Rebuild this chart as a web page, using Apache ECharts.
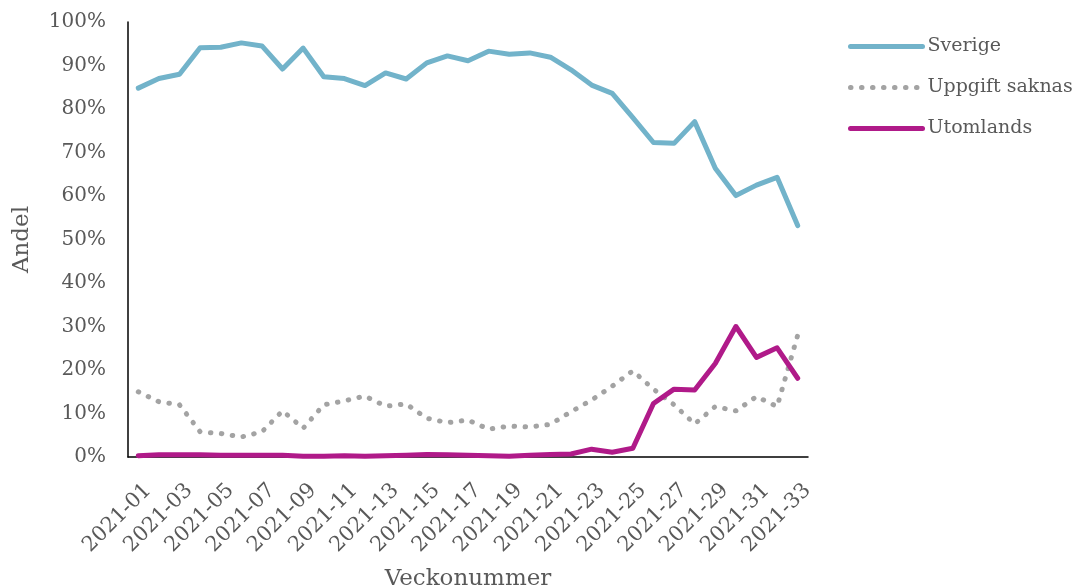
<!DOCTYPE html>
<html>
<head>
<meta charset="utf-8">
<script src="https://cdn.jsdelivr.net/npm/echarts@6/dist/echarts.min.js"></script>
<style>
  html, body { margin: 0; padding: 0; background: #fff; }
  #chart { width: 1078px; height: 588px; }
</style>
</head>
<body>
<div id="chart"></div>
<script>
// veckor 2021-01 .. 2021-33
const weeks = []
for (let w = 1; w <= 33; w++) weeks.push('2021-' + String(w).padStart(2, '0'))

// andel i procent
const sverige = [84.8, 87.0, 88.0, 94.1, 94.2, 95.2, 94.5, 89.2, 94.0, 87.4, 87.0, 85.4, 88.3, 86.9, 90.6, 92.2,
  91.1, 93.3, 92.6, 92.9, 91.9, 89.0, 85.5, 83.6, 78.0, 72.3, 72.1, 77.1, 66.4, 60.1, 62.5, 64.3, 53.2]
const uppgiftSaknas = [15.0, 12.7, 12.0, 5.8, 5.4, 4.6, 5.8, 10.6, 6.6, 12.0, 12.9, 14.0, 11.7, 12.2, 8.9, 7.9,
  8.5, 6.4, 7.1, 6.9, 7.5, 10.4, 13.1, 16.3, 19.8, 15.6, 12.0, 7.6, 11.6, 10.6, 13.9, 11.6, 28.0]
const utomlands = [0.3, 0.5, 0.5, 0.5, 0.4, 0.4, 0.4, 0.4, 0.2, 0.2, 0.3, 0.2, 0.3, 0.4, 0.6, 0.5,
  0.4, 0.3, 0.2, 0.4, 0.6, 0.7, 1.8, 1.1, 2.0, 12.3, 15.6, 15.4, 21.5, 30.0, 22.9, 25.1, 18.1]

const font = 'DejaVu Serif'
const grey = '#595959'
const dots = [0.5, 10.5]

const myChart = echarts.init(document.getElementById('chart'))
const option = {
  animation: false,
  textStyle: { fontFamily: font },
  grid: { left: 128, right: 270, top: 22, bottom: 131, outerBoundsMode: 'none' },
  legend: {
    orient: 'vertical',
    left: 843,
    top: 32,
    itemWidth: 72,
    itemHeight: 14,
    itemGap: 22,
    itemStyle: { opacity: 0 },
    lineStyle: { width: 5, cap: 'round' },
    textStyle: { fontFamily: font, fontSize: 19, color: grey },
    data: ['Sverige', 'Uppgift saknas', 'Utomlands']
  },
  xAxis: {
    type: 'category',
    data: weeks,
    boundaryGap: true,
    name: 'Veckonummer',
    nameLocation: 'middle',
    nameGap: 111,
    nameTextStyle: { fontFamily: font, fontSize: 23, color: grey },
    axisLine: { lineStyle: { color: '#000', width: 1.5 } },
    axisTick: { show: false },
    axisLabel: { interval: 1, rotate: 45, fontFamily: font, fontSize: 21, color: grey, margin: 40, padding: [0, -14, 0, 0] }
  },
  yAxis: {
    type: 'value',
    min: 0,
    max: 100,
    interval: 10,
    name: 'Andel',
    nameLocation: 'middle',
    nameGap: 94,
    nameTextStyle: { fontFamily: font, fontSize: 23, color: grey },
    axisLine: { show: true, lineStyle: { color: '#000', width: 1.5 } },
    axisTick: { show: false },
    splitLine: { show: false },
    axisLabel: { formatter: '{value}%', fontFamily: font, fontSize: 20, color: grey, margin: 22 }
  },
  series: [
    {
      name: 'Sverige',
      type: 'line',
      data: sverige,
      symbol: 'none',
      color: '#72B3CA',
      lineStyle: { width: 5, cap: 'round', join: 'round' }
    },
    {
      name: 'Uppgift saknas',
      type: 'line',
      data: uppgiftSaknas,
      symbol: 'none',
      color: '#A3A3A3',
      lineStyle: { width: 5, type: dots, cap: 'round' }
    },
    {
      name: 'Utomlands',
      type: 'line',
      data: utomlands,
      symbol: 'none',
      color: '#B01A89',
      lineStyle: { width: 5, cap: 'round', join: 'round' }
    }
  ]
}
myChart.setOption(option)
</script>
</body>
</html>
